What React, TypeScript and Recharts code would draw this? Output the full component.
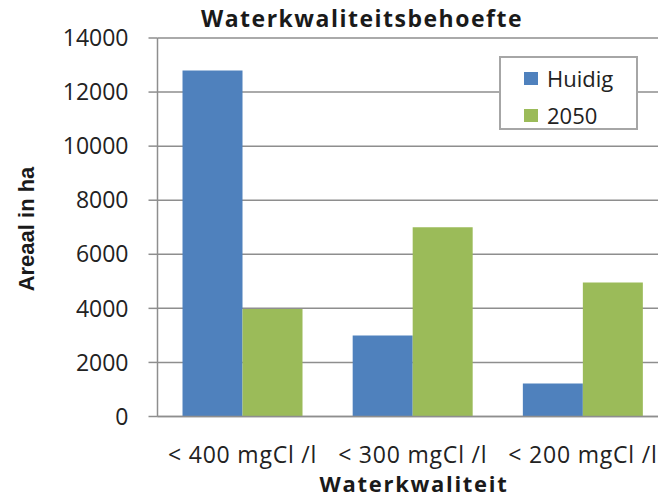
import { BarChart, Bar, XAxis, YAxis, CartesianGrid, Legend } from "recharts";

const categories = ["< 400 mgCl /l", "< 300 mgCl /l", "< 200 mgCl /l"];
const huidig = [12800, 3000, 1220];
const jaar2050 = [3980, 7000, 4960];
const yTicks = [0, 2000, 4000, 6000, 8000, 10000, 12000, 14000];

const seriesNames = ["Huidig", "2050"];
const colors = ["#4F81BD", "#9BBB59"];

const data = categories.map((name, i) => ({
  name,
  huidig: huidig[i],
  y2050: jaar2050[i],
}));

const gridColor = "#8e8e8e";
const font = "'Open Sans', sans-serif";

const LegendBox = ({ payload }: any) => {
  // keep the series order, recharts sorts legend items by name
  const items = [...(payload || [])].sort(
    (a: any, b: any) => seriesNames.indexOf(a.value) - seriesNames.indexOf(b.value)
  );
  return (
    <div
      style={{
        boxSizing: "border-box",
        width: 139,
        height: 74,
        border: "2px solid #a6a6a6",
        background: "#fff",
        paddingTop: 4,
        paddingLeft: 23,
        fontFamily: font,
        fontSize: 22,
        color: "#222",
      }}
    >
      {items.map((entry: any) => (
        <div
          key={entry.value}
          style={{ display: "flex", alignItems: "center", height: 32, marginBottom: 5 }}
        >
          <span
            style={{
              display: "inline-block",
              width: 14,
              height: 13,
              background: entry.color,
              marginRight: 9,
            }}
          />
          <span>{entry.value}</span>
        </div>
      ))}
    </div>
  );
};

export default function App() {
  return (
    <div
      style={{
        position: "absolute",
        left: 0,
        top: 0,
        width: 658,
        height: 494,
        overflow: "hidden",
        background: "#fff",
        fontFamily: font,
      }}
    >
      <div
        style={{
          position: "absolute",
          left: 362,
          top: 18,
          transform: "translate(-50%, -50%)",
          whiteSpace: "nowrap",
          fontWeight: 700,
          fontSize: 23,
          letterSpacing: 1.5,
          color: "#1a1a1a",
        }}
      >
        Waterkwaliteitsbehoefte
      </div>
      <div
        style={{
          position: "absolute",
          left: 27,
          top: 229,
          transform: "translate(-50%, -50%) rotate(-90deg)",
          whiteSpace: "nowrap",
          fontFamily: "'Liberation Sans', Arial, sans-serif",
          fontWeight: 700,
          fontSize: 22,
          color: "#1a1a1a",
        }}
      >
        Areaal in ha
      </div>
      <div
        style={{
          position: "absolute",
          left: 414,
          top: 483,
          transform: "translate(-50%, -50%)",
          whiteSpace: "nowrap",
          fontWeight: 700,
          fontSize: 22,
          lineHeight: "20px",
          letterSpacing: 1.7,
          color: "#1a1a1a",
        }}
      >
        Waterkwaliteit
      </div>
      <BarChart
        width={680}
        height={494}
        data={data}
        margin={{ top: 38, right: 12, left: 0, bottom: 0 }}
        barCategoryGap="14.7%"
        barGap={0}
      >
        <CartesianGrid vertical={false} stroke={gridColor} strokeWidth={1.5} />
        <XAxis
          dataKey="name"
          height={77.5}
          tickLine={false}
          axisLine={{ stroke: gridColor, strokeWidth: 1.5 }}
          tickMargin={24}
          interval={0}
          tick={{ fill: "#222", fontSize: 23, fontFamily: font, letterSpacing: 0.8 }}
        />
        <YAxis
          width={157.5}
          domain={[0, 14000]}
          ticks={yTicks}
          interval={0}
          tickSize={9}
          tickMargin={20}
          tickLine={{ stroke: gridColor, strokeWidth: 1.5 }}
          axisLine={{ stroke: gridColor, strokeWidth: 1.5 }}
          tick={{ fill: "#222", fontSize: 23, fontFamily: font }}
        />
        <Legend
          layout="vertical"
          align="center"
          verticalAlign="middle"
          wrapperStyle={{ left: 499, top: 56, width: 139, height: 74 }}
          content={<LegendBox />}
        />
        <Bar dataKey="huidig" name={seriesNames[0]} fill={colors[0]} isAnimationActive={false} />
        <Bar dataKey="y2050" name={seriesNames[1]} fill={colors[1]} isAnimationActive={false} />
      </BarChart>
    </div>
  );
}
